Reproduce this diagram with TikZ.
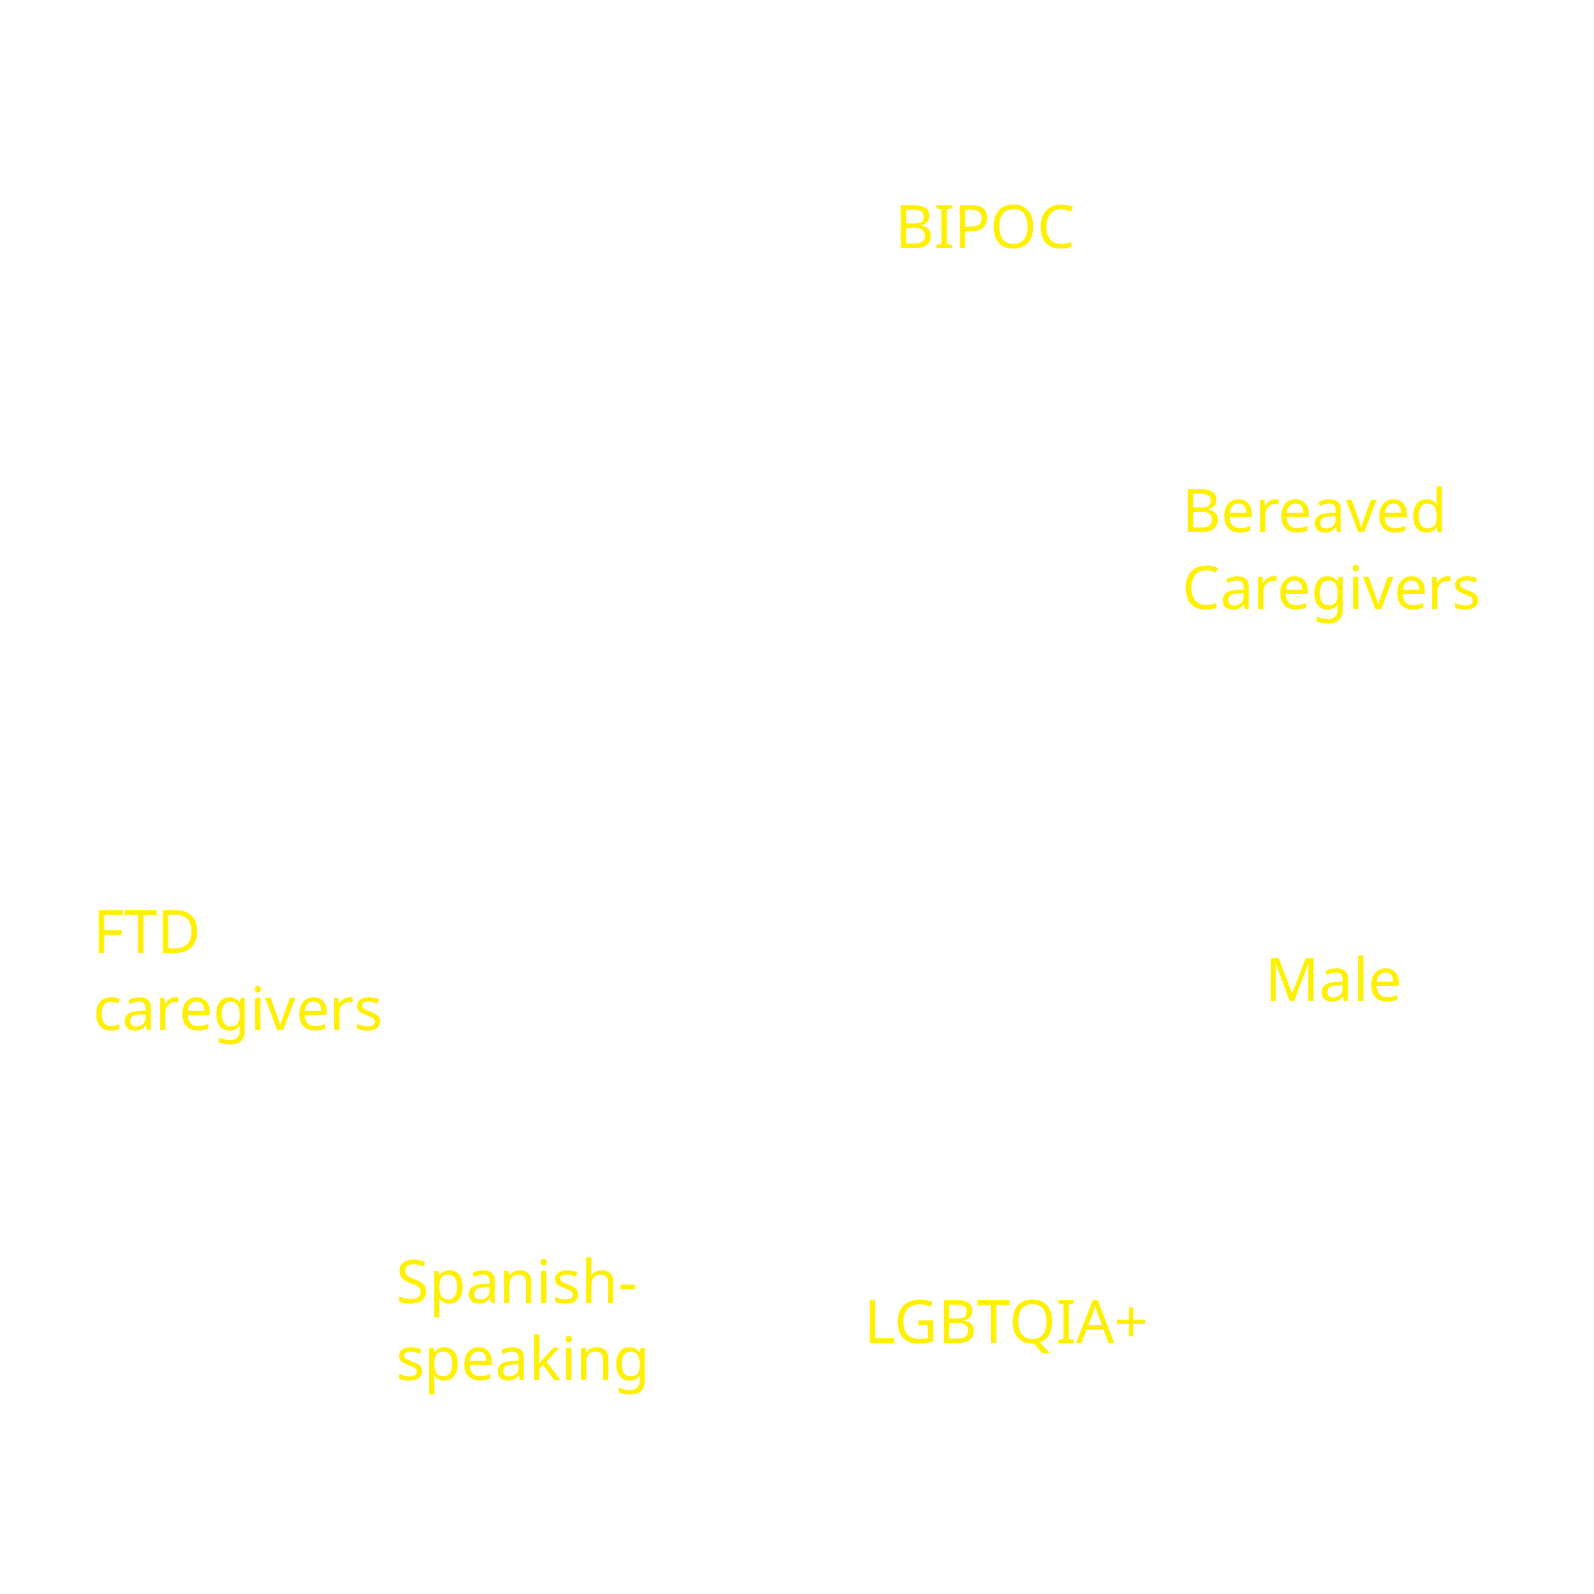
\documentclass[tikz,border=0pt]{standalone}
\usepackage{fontspec}
\setmainfont{Noto Sans}
\definecolor{lab}{RGB}{255,240,0}
\begin{document}
\begin{tikzpicture}[x=1pt,y=-1pt,
  lbl/.style={anchor=base west,inner sep=0pt,text=lab,font=\fontsize{60}{72}\selectfont}]
\useasboundingbox (0,0) rectangle (1594,1593);
\node[lbl] (bipoc) at (895,248) {BIPOC};
\node[lbl] (ber1) at (1182,532) {Bereaved};
\node[lbl] (ber2) at (1182,609) {Caregivers};
\node[lbl] (ftd1) at (93,953) {FTD};
\node[lbl] (ftd2) at (93,1030) {caregivers};
\node[lbl] (male) at (1265,1001) {Male};
\node[lbl] (sp1) at (396,1303) {Spanish-};
\node[lbl] (sp2) at (396,1380) {speaking};
\node[lbl] (lgb) at (864,1343) {LGBTQIA+};
\end{tikzpicture}
\end{document}
